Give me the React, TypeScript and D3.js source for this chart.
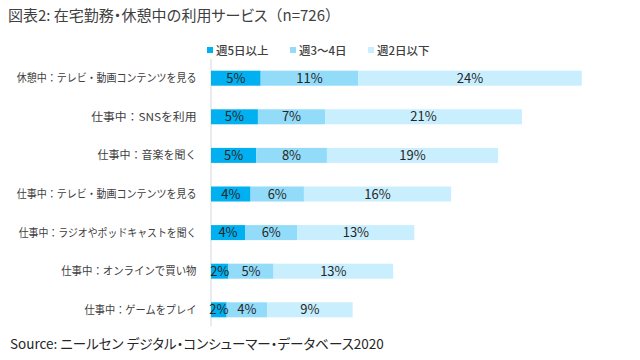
import React, { useLayoutEffect, useRef, useState } from "react";
import * as d3 from "d3";

const title = "図表2: 在宅勤務・休憩中の利用サービス（n=726）";
const source = "Source: ニールセン デジタル・コンシューマー・データベース2020";
const categories = [
  "休憩中：テレビ・動画コンテンツを見る",
  "仕事中：SNSを利用",
  "仕事中：音楽を聞く",
  "仕事中：テレビ・動画コンテンツを見る",
  "仕事中：ラジオやポッドキャストを聞く",
  "仕事中：オンラインで買い物",
  "仕事中：ゲームをプレイ",
];
const seriesNames = ["週5日以上", "週3～4日", "週2日以下"];
const week5 = [5.4, 5.1, 4.9, 4.3, 3.7, 1.9, 1.7];
const week34 = [10.6, 7.3, 7.7, 5.8, 5.7, 4.9, 4.4];
const week2 = [24.3, 21.4, 18.6, 16.0, 12.7, 13.0, 9.3];
const colors = ["#00B0F0", "#92DCFA", "#C9EFFE"];

const W = 640;
const H = 360;
const FONT = "'Noto Sans CJK JP', 'Noto Sans', sans-serif";
const PALT = { fontFeatureSettings: '"palt"' } as React.CSSProperties;

// Title / source: katakana runs and middle dots with proportional widths
function Runs({ text }: { text: string }) {
  const parts = text.split(/([\u30A0-\u30FF・]+)/).filter((p) => p.length > 0);
  return (
    <>
      {parts.map((p, i) =>
        /^[\u30A0-\u30FF・]+$/.test(p) ? (
          <tspan key={i} style={PALT}>
            {p}
          </tspan>
        ) : (
          <tspan key={i}>{p}</tspan>
        )
      )}
    </>
  );
}

// Approximate the narrow-kana UI font widths of the original (px at 11px size)
function labelWidth(text: string) {
  let w = 0;
  for (const ch of text) {
    if (ch === "・") w += 5;
    else if (/[ッャュョァィゥェォ]/.test(ch)) w += 7;
    else if (/[\u30A1-\u30FA\u30FC]/.test(ch)) w += 9.5;
    else if (/[A-Z]/.test(ch)) w += 9.5;
    else if (/[ -~]/.test(ch)) w += 6.5;
    else w += 11;
  }
  return w;
}

export default function App() {
  const series = [week5, week34, week2];
  const x = d3.scaleLinear().domain([0, 40]).range([211, 579]);
  const y = d3
    .scaleBand<string>()
    .domain(categories)
    .range([58.9, 329.1])
    .paddingInner(0.611)
    .paddingOuter(0.3055);

  const stacked = categories.map((c, i) => {
    let acc = 0;
    return series.map((s, k) => {
      const x0 = acc;
      acc += s[i];
      return { k, x0, x1: acc, v: s[i] };
    });
  });

  const labelRefs = useRef<(SVGTextElement | null)[]>([]);
  const [scales, setScales] = useState<number[]>(categories.map(() => 1));

  useLayoutEffect(() => {
    const next = categories.map((c, i) => {
      const el = labelRefs.current[i];
      if (!el) return 1;
      const bw = el.getBBox().width;
      return bw > 0 ? labelWidth(c) / bw : 1;
    });
    setScales(next);
  }, []);

  const legendX = [207, 290, 368];

  return (
    <svg
      width={W}
      height={H}
      style={{ position: "absolute", left: 0, top: 0, background: "#fff" }}
      fontFamily={FONT}
    >
      <rect width={W} height={H} fill="#fff" />
      <text x={8} y={21} fontSize={15} fill="#404040">
        <Runs text={title} />
      </text>
      {seriesNames.map((n, k) => (
        <g key={n}>
          <rect x={legendX[k]} y={47} width={6} height={6} fill={colors[k]} />
          <text x={legendX[k] + 9} y={54.5} fontSize={11.5} fill="#404040" fontWeight={500}>
            {n}
          </text>
        </g>
      ))}
      <line x1={x(0)} x2={x(0)} y1={59} y2={326} stroke="#E5E5E5" strokeWidth={1.5} />
      {categories.map((c, i) => {
        const yc = (y(c) as number) + y.bandwidth() / 2;
        return (
          <g key={c}>
            <g transform={`translate(196.5,${yc}) scale(${scales[i]},1)`}>
              <text
                ref={(el) => {
                  labelRefs.current[i] = el;
                }}
                x={0}
                y={0}
                dy="0.36em"
                textAnchor="end"
                fontSize={11}
                fill="#404040"
              >
                {c}
              </text>
            </g>
            {stacked[i].map((seg) => (
              <rect
                key={seg.k}
                x={x(seg.x0)}
                y={y(c)}
                width={x(seg.x1) - x(seg.x0)}
                height={y.bandwidth()}
                fill={colors[seg.k]}
              />
            ))}
            {stacked[i].map((seg) => (
              <text
                key={"t" + seg.k}
                x={(x(seg.x0) + x(seg.x1)) / 2}
                y={yc}
                dy="0.36em"
                textAnchor="middle"
                fontSize={13}
                fill="#262626"
              >
                {Math.round(seg.v) + "%"}
              </text>
            ))}
          </g>
        );
      })}
      <text x={10} y={349} fontSize={13.5} fill="#262626">
        <Runs text={source} />
      </text>
    </svg>
  );
}
